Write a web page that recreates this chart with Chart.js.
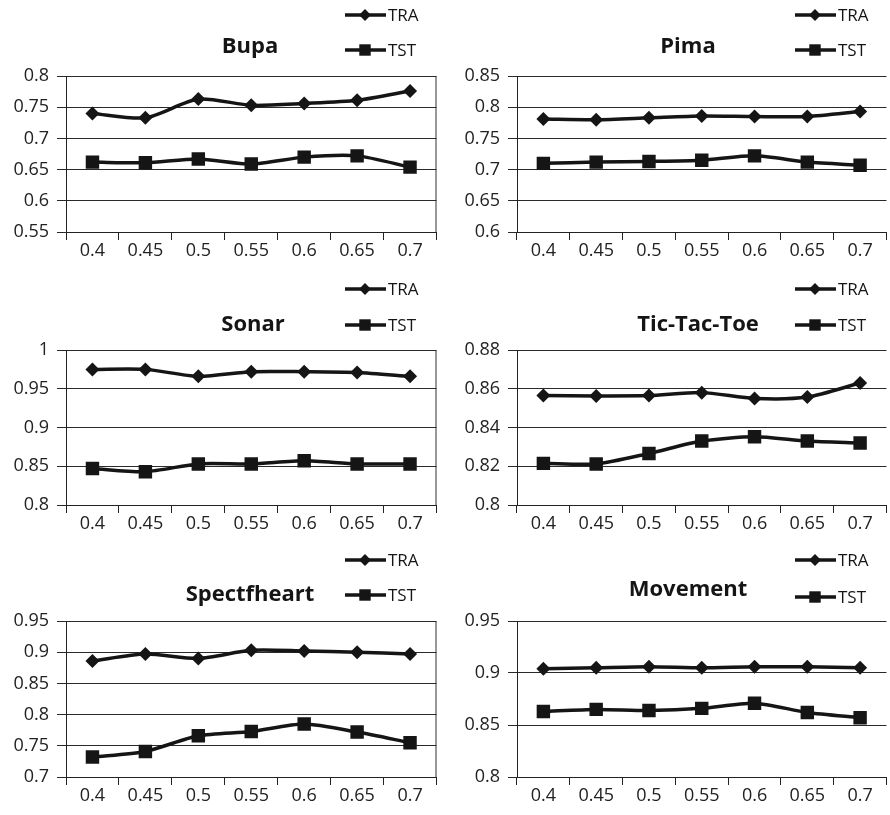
<!DOCTYPE html>
<html>
<head>
<meta charset="utf-8">
<script src="https://cdn.jsdelivr.net/npm/chart.js@4.4.1/dist/chart.umd.min.js"></script>
<style>
  html, body { margin: 0; padding: 0; background: #fff; overflow: hidden; width: 890px; height: 815px; }
  canvas { position: absolute; }
</style>
</head>
<body>
<canvas id="bupa" width="446" height="270" style="left:0;top:0"></canvas>
<canvas id="pima" width="451" height="270" style="left:445px;top:0"></canvas>
<canvas id="sonar" width="446" height="270" style="left:0;top:270px"></canvas>
<canvas id="tictac" width="451" height="270" style="left:445px;top:270px"></canvas>
<canvas id="spect" width="446" height="275" style="left:0;top:540px"></canvas>
<canvas id="movement" width="451" height="275" style="left:445px;top:540px"></canvas>
<script>
// x categories (threshold)
var thresholds = ['0.4', '0.45', '0.5', '0.55', '0.6', '0.65', '0.7'];

var bupaTra = [0.740, 0.733, 0.763, 0.753, 0.756, 0.761, 0.776];
var bupaTst = [0.662, 0.661, 0.667, 0.659, 0.670, 0.672, 0.654];

var pimaTra = [0.781, 0.780, 0.783, 0.786, 0.785, 0.785, 0.793];
var pimaTst = [0.710, 0.712, 0.713, 0.715, 0.722, 0.712, 0.707];

var sonarTra = [0.975, 0.975, 0.966, 0.972, 0.972, 0.971, 0.966];
var sonarTst = [0.847, 0.843, 0.853, 0.853, 0.857, 0.853, 0.853];

var tictacTra = [0.8565, 0.8563, 0.8565, 0.858, 0.855, 0.8557, 0.863];
var tictacTst = [0.8215, 0.8212, 0.8266, 0.833, 0.8352, 0.833, 0.832];

var spectTra = [0.886, 0.897, 0.890, 0.903, 0.902, 0.900, 0.897];
var spectTst = [0.732, 0.741, 0.766, 0.773, 0.785, 0.772, 0.755];

var movementTra = [0.904, 0.905, 0.906, 0.905, 0.906, 0.906, 0.905];
var movementTst = [0.863, 0.865, 0.864, 0.866, 0.871, 0.862, 0.857];

var ink = '#151515';

// title + stacked legend drawn beside it, like the original figure
var panelDeco = {
  id: 'panelDeco',
  afterDraw: function(chart, args, o) {
    var ctx = chart.ctx;
    var area = chart.chartArea;
    ctx.save();
    if (o.rightBorder) {
      ctx.strokeStyle = '#333';
      ctx.lineWidth = 1;
      ctx.beginPath();
      ctx.moveTo(area.right - 0.5, area.top);
      ctx.lineTo(area.right - 0.5, area.bottom);
      ctx.stroke();
    }
    ctx.fillStyle = ink;
    ctx.font = 'bold 22px "Open Sans"';
    ctx.textAlign = 'center';
    ctx.textBaseline = 'middle';
    ctx.fillText(o.title, o.titleX, o.titleY);

    ctx.font = '17px "Open Sans"';
    ctx.textAlign = 'left';
    chart.data.datasets.forEach(function(ds, i) {
      var y = o.legendY[i];
      ctx.strokeStyle = ink;
      ctx.lineWidth = 3.5;
      ctx.beginPath();
      ctx.moveTo(o.legendX, y);
      ctx.lineTo(o.legendX + 41, y);
      ctx.stroke();
      ctx.fillStyle = ink;
      Chart.helpers.drawPoint(ctx, {pointStyle: ds.pointStyle, radius: ds.pointRadius * 0.85, rotation: 0, borderWidth: 0}, o.legendX + 20, y);
      ctx.fillStyle = ink;
      ctx.fillText(ds.label, o.legendX + 43, y + 1);
    });
    ctx.restore();
  }
};

function makePanel(id, tra, tst, p) {
  var ctx = document.getElementById(id).getContext('2d');
  return new Chart(ctx, {
    type: 'line',
    data: {
      labels: thresholds,
      datasets: [{
        label: 'TRA',
        data: tra,
        borderColor: ink,
        backgroundColor: ink,
        borderWidth: 3.5,
        pointStyle: 'rectRot',
        pointRadius: 7,
        pointBorderWidth: 0,
        tension: 0.25
      }, {
        label: 'TST',
        data: tst,
        borderColor: ink,
        backgroundColor: ink,
        borderWidth: 3.5,
        pointStyle: 'rect',
        pointRadius: 9.5,
        pointBorderWidth: 0,
        tension: 0.25
      }]
    },
    options: {
      responsive: false,
      animation: false,
      layout: { padding: { top: p.padTop, left: 0, right: 0, bottom: 0 } },
      plugins: {
        legend: { display: false },
        title: { display: false },
        tooltip: { enabled: false },
        panelDeco: p.deco
      },
      scales: {
        x: {
          offset: true,
          afterFit: function(s) { s.height = p.xH; },
          grid: { offset: true, drawOnChartArea: false, drawTicks: true, tickLength: 8, color: '#222' },
          border: { color: '#222', width: 1 },
          ticks: { color: '#222', font: { family: 'Open Sans', size: 18 }, padding: 0, maxRotation: 0 }
        },
        y: {
          min: p.min,
          max: p.max,
          afterFit: function(s) { s.width = p.yW; },
          grid: { color: '#2a2a2a', tickLength: 9 },
          border: { color: '#222', width: 1 },
          ticks: {
            stepSize: p.step,
            color: '#222',
            padding: 8,
            font: { family: 'Open Sans', size: 18 },
            callback: function(v) { return String(+v.toFixed(2)); }
          }
        }
      }
    },
    plugins: [panelDeco]
  });
}

makePanel('bupa', bupaTra, bupaTst, {
  padTop: 76, xH: 38, yW: 66, min: 0.55, max: 0.8, step: 0.05,
  deco: { title: 'Bupa', titleX: 250, titleY: 47, legendX: 345, legendY: [15, 50], rightBorder: true }
});
makePanel('pima', pimaTra, pimaTst, {
  padTop: 76, xH: 38, yW: 72, min: 0.6, max: 0.85, step: 0.05,
  deco: { title: 'Pima', titleX: 243, titleY: 47, legendX: 350, legendY: [15, 50] }
});
makePanel('sonar', sonarTra, sonarTst, {
  padTop: 80, xH: 35, yW: 66, min: 0.8, max: 1, step: 0.05,
  deco: { title: 'Sonar', titleX: 253, titleY: 55, legendX: 345, legendY: [19, 55], rightBorder: true }
});
makePanel('tictac', tictacTra, tictacTst, {
  padTop: 80, xH: 35, yW: 72, min: 0.8, max: 0.88, step: 0.02,
  deco: { title: 'Tic-Tac-Toe', titleX: 253, titleY: 55, legendX: 350, legendY: [19, 55] }
});
makePanel('spect', spectTra, spectTst, {
  padTop: 81, xH: 38, yW: 66, min: 0.7, max: 0.95, step: 0.05,
  deco: { title: 'Spectfheart', titleX: 250, titleY: 55, legendX: 345, legendY: [20, 55], rightBorder: true }
});
makePanel('movement', movementTra, movementTst, {
  padTop: 81, xH: 38, yW: 72, min: 0.8, max: 0.95, step: 0.05,
  deco: { title: 'Movement', titleX: 243, titleY: 50, legendX: 350, legendY: [20, 57] }
});
</script>
</body>
</html>
